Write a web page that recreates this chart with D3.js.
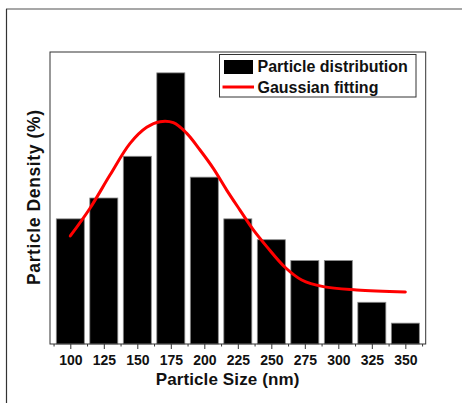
<!DOCTYPE html>
<html><head><meta charset="utf-8">
<script src="https://cdn.jsdelivr.net/npm/d3@7"></script>
<style>html,body{margin:0;padding:0;background:#fff;}svg{display:block;}</style>
</head><body>
<script>
// ---- data ----
const sizes = [100, 125, 150, 175, 200, 225, 250, 275, 300, 325, 350];
const density = [6, 7, 9, 13, 8, 6, 5, 4, 4, 2, 1];
const fitX = [100, 114.7, 129.6, 144.6, 157, 166.9, 176.9, 186.9, 196.8, 206.7, 216.7, 226.6, 236.6, 246.6, 260.2, 272.7, 288.8, 313.7, 350];
const fitY = [5.18, 6.51, 8.10, 9.62, 10.39, 10.66, 10.61, 10.10, 9.30, 8.42, 7.38, 6.42, 5.47, 4.67, 3.68, 3.07, 2.75, 2.59, 2.49];
const tickLabels = ["100","125","150","175","200","225","250","275","300","325","350"];
const minorTicks = [87.5,112.5,137.5,162.5,187.5,212.5,237.5,262.5,287.5,312.5,337.5,362.5];
const legendLabels = ["Particle distribution", "Gaussian fitting"];
const xTitle = "Particle Size (nm)";
const yTitle = "Particle Density (%)";

const W = 462, H = 403;
const L = 50, R = 425.7, T = 52, B = 344;
const svg = d3.select("body").append("svg").attr("width", W).attr("height", H);
svg.append("rect").attr("width", W).attr("height", H).attr("fill", "#fff");

// outer frame
svg.append("line").attr("x1", 6).attr("x2", W).attr("y1", 9).attr("y2", 9).attr("stroke", "#8a8a8a").attr("stroke-width", 1.5);
svg.append("line").attr("x1", 6.5).attr("x2", 6.5).attr("y1", 9).attr("y2", H).attr("stroke", "#333").attr("stroke-width", 1.2);

const x = d3.scaleLinear().domain([84.85, 365.2]).range([L, R]);
const y = d3.scaleLinear().domain([0, 14]).range([B, T]);
const halfW = 10.45;

// bars
svg.append("g").selectAll("rect").data(sizes).join("rect")
  .attr("x", (d) => x(d - halfW))
  .attr("width", (d) => x(d + halfW) - x(d - halfW))
  .attr("y", (d, i) => y(density[i]))
  .attr("height", (d, i) => B - y(density[i]))
  .attr("fill", "#000").attr("stroke", "#8c8c8c").attr("stroke-width", 0.8);

// gaussian fit
const pts = fitX.map((v, i) => [v, fitY[i]]);
svg.append("path").datum(pts)
  .attr("d", d3.line().x(d => x(d[0])).y(d => y(d[1])).curve(d3.curveCatmullRom))
  .attr("fill", "none").attr("stroke", "#ff0000").attr("stroke-width", 3).attr("stroke-linecap", "round");

// plot frame
svg.append("rect").attr("x", L).attr("y", T).attr("width", R - L).attr("height", B - T)
  .attr("fill", "none").attr("stroke", "#333").attr("stroke-width", 1);

// x axis
const xAxis = d3.axisBottom(x).tickValues(sizes).tickSize(5).tickFormat((d, i) => tickLabels[i]).tickPadding(6);
const gx = svg.append("g").attr("transform", `translate(0,${B})`).call(xAxis);
gx.select(".domain").remove();
gx.selectAll(".tick line").attr("stroke", "#333");
gx.selectAll(".tick text").attr("font-family", "Liberation Sans, Arial, sans-serif")
  .attr("font-weight", "bold").attr("font-size", "14px").attr("fill", "#111").attr("dy", "0.71em");
const gmin = svg.append("g").attr("transform", `translate(0,${B})`).call(d3.axisBottom(x).tickValues(minorTicks).tickSize(2.5).tickFormat(""));
gmin.select(".domain").remove();
gmin.selectAll(".tick line").attr("stroke", "#333");

// axis titles
svg.append("text").attr("x", 227.5).attr("y", 384.5).attr("text-anchor", "middle")
  .attr("font-family", "Liberation Sans, Arial, sans-serif").attr("font-weight", "bold").attr("font-size", "17px")
  .attr("textLength", 143.6).attr("lengthAdjust", "spacing")
  .attr("fill", "#111").text(xTitle);
svg.append("text").attr("transform", "translate(39.5,197.5) rotate(-90)").attr("text-anchor", "middle")
  .attr("font-family", "Liberation Sans, Arial, sans-serif").attr("font-weight", "bold").attr("font-size", "17.5px")
  .attr("textLength", 175).attr("lengthAdjust", "spacing")
  .attr("fill", "#111").text(yTitle);

// legend
const lg = svg.append("g");
lg.append("rect").attr("x", 219.5).attr("y", 54.5).attr("width", 196.5).attr("height", 42.5)
  .attr("fill", "#fff").attr("stroke", "#333").attr("stroke-width", 1);
lg.append("rect").attr("x", 224).attr("y", 60).attr("width", 29).attr("height", 14).attr("fill", "#000");
lg.append("line").attr("x1", 222.5).attr("x2", 254).attr("y1", 87).attr("y2", 87)
  .attr("stroke", "#ff0000").attr("stroke-width", 3);
lg.selectAll("text.lt").data(legendLabels).join("text").attr("class", "lt")
  .attr("x", 257.5).attr("y", (d, i) => i === 0 ? 71.5 : 92.5)
  .attr("font-family", "Liberation Sans, Arial, sans-serif").attr("font-weight", "bold").attr("font-size", "16px")
  .attr("fill", "#111").text(d => d);
</script>
</body></html>
